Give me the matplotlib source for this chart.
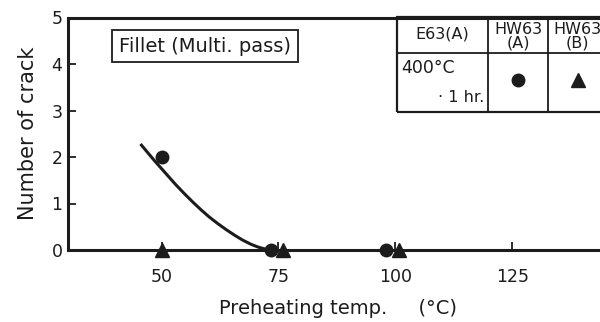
import matplotlib.pyplot as plt
from matplotlib.lines import Line2D
from matplotlib.patches import Rectangle

# crack counts, fillet multi-pass, E63(A) 400°C x 1 hr
temp_hw63a = [50, 73.5, 98]
crack_hw63a = [2, 0, 0]
temp_hw63b = [50, 76, 100.8]
crack_hw63b = [0, 0, 0]

# hand-drawn trend curve through the HW63(A) results
curve_temp = [45.5, 47.0, 48.5, 50.0, 51.5, 53.0, 54.9, 56.7, 58.5, 60.2, 62.0,
              63.8, 65.6, 67.4, 69.2, 70.6, 71.8, 72.8, 73.5]
curve_crack = [2.28, 2.10, 1.92, 1.75, 1.58, 1.41, 1.21, 1.03, 0.86, 0.71, 0.57,
               0.44, 0.32, 0.21, 0.12, 0.065, 0.03, 0.01, 0.0]

x_ticks = [50, 75, 100, 125]
y_ticks = [0, 1, 2, 3, 4, 5]

ink = '#1c1c1c'
plt.rcParams['font.family'] = ['DejaVu Sans']

W, H = 600, 322
fig = plt.figure(figsize=(6, 3.22), dpi=100)
fig.patch.set_facecolor('white')

def fx(px):
    return px / W

def fy(py):
    return 1 - py / H

xmin, xmax = 30, 150
ax_w = (xmax - xmin) * 4.676
ax = fig.add_axes([fx(68), fy(250), ax_w / W, (250 - 17.5) / H])
ax.set_xlim(xmin, xmax)
ax.set_ylim(0, 5)

for s in ['left', 'bottom', 'top']:
    ax.spines[s].set_linewidth(2.2)
    ax.spines[s].set_color(ink)
ax.spines['right'].set_visible(False)

ax.plot(curve_temp, curve_crack, color=ink, lw=2.2, solid_capstyle='butt',
        solid_joinstyle='round', zorder=3)
ax.plot(temp_hw63a, crack_hw63a, 'o', color=ink, ms=9, clip_on=False, zorder=4)
ax.plot(temp_hw63b, crack_hw63b, '^', color=ink, ms=10, clip_on=False, zorder=4)

ax.set_xticks(x_ticks)
ax.set_yticks(y_ticks)
ax.tick_params(axis='both', direction='in', length=6, width=1.3, colors=ink, labelsize=12.5)
ax.tick_params(axis='x', pad=13)
ax.tick_params(axis='y', pad=4)

ax.set_ylabel('Number of crack', fontsize=15, color=ink, labelpad=10)
ax.set_xlabel('Preheating temp.     (°C)', fontsize=14, color=ink, va='center')
ax.xaxis.set_label_coords((338 - 68) / ax_w, -(308 - 250) / 232.5)

# condition label
fig.text(fx(205), fy(46), 'Fillet (Multi. pass)', fontsize=14, color=ink,
         ha='center', va='center',
         bbox=dict(boxstyle='square,pad=0.35', fc='white', ec=ink, lw=1.3))

# legend table, top right
fig.add_artist(Rectangle((fx(397), fy(112)), fx(260), 95 / H, transform=fig.transFigure,
                         fill=False, ec=ink, lw=1.6))
for px in [488, 548]:
    fig.add_artist(Line2D([fx(px), fx(px)], [fy(112), fy(18)], color=ink, lw=1.3))
fig.add_artist(Line2D([fx(397), fx(610)], [fy(53), fy(53)], color=ink, lw=1.3))

fig.text(fx(442), fy(34), 'E63(A)', fontsize=11.5, color=ink, ha='center', va='center')
fig.text(fx(518), fy(36), 'HW63\n(A)', fontsize=11.5, color=ink, ha='center', va='center',
         linespacing=0.85)
fig.text(fx(577), fy(36), 'HW63\n(B)', fontsize=11.5, color=ink, ha='center', va='center',
         linespacing=0.85)
fig.text(fx(401), fy(68), '400°C', fontsize=12.5, color=ink, ha='left', va='center')
fig.text(fx(484), fy(98), '· 1 hr.', fontsize=11.5, color=ink, ha='right', va='center')
fig.add_artist(Line2D([fx(518)], [fy(80)], marker='o', ms=9, color=ink, ls=''))
fig.add_artist(Line2D([fx(578)], [fy(80)], marker='^', ms=10, color=ink, ls=''))

fig.savefig('out.png', dpi=100)
